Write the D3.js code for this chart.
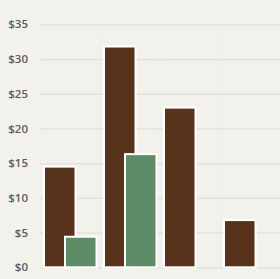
<!DOCTYPE html>
<html><head><meta charset="utf-8">
<script src="https://cdn.jsdelivr.net/npm/d3@7"></script>
<style>html,body{margin:0;padding:0;background:#f2f1ec;}svg{display:block;}</style>
</head><body><svg id="c" width="280" height="279"></svg>
<script>
const categories = ["A","B","C","D"];
const seriesNames = ["first","second"];
const firstValues = [14.5, 31.8, 23, 6.8];
const secondValues = [4.4, 16.3, 0, 0];
const tickValues = [0,5,10,15,20,25,30,35];
const tickLabels = ["$0","$5","$10","$15","$20","$25","$30","$35"];

const colors = {first:"#58321a", second:"#5e8c66"};
const svg = d3.select("#c");
const x0 = d3.scaleBand().domain(categories).range([40,280]).paddingInner(0);
const x1 = d3.scalePoint().domain(seriesNames).range([4,25]);
const barW = 31.5;
const y = d3.scaleLinear().domain([0,35]).range([267.3,24.3]);

// vertical faint lines
svg.append("g").selectAll("line").data(categories).join("line")
  .attr("x1",d=>x0(d)).attr("x2",d=>x0(d)).attr("y1",y(35)).attr("y2",y(0)+3)
  .attr("stroke","#efede7").attr("stroke-width",1);

const yAxis = d3.axisLeft(y).tickValues(tickValues).tickFormat((d,i)=>tickLabels[i]).tickSize(-240).tickPadding(12);
const ga = svg.append("g").attr("transform","translate(40,0)").call(yAxis);
ga.select(".domain").remove();
ga.selectAll(".tick line").attr("stroke","#e4e2da").attr("stroke-width",1.5);
ga.selectAll(".tick text").attr("fill","#5c5c5c").style("font-family","'Open Sans', 'Noto Sans', sans-serif").style("font-weight","600").style("font-size","11.5px");

const rows = categories.map((c,i)=>({c, first:firstValues[i], second:secondValues[i]}));
const g = svg.append("g");
seriesNames.forEach(s=>{
  g.selectAll("rect."+s).data(rows.filter(r=>r[s]>0)).join("rect")
    .attr("class",s)
    .attr("x",d=>x0(d.c)+x1(s))
    .attr("y",d=>y(d[s]))
    .attr("width",barW)
    .attr("height",d=>y(0)-y(d[s]))
    .attr("fill",colors[s])
    .attr("stroke","#ffffff").attr("stroke-width",2);
});
</script></body></html>
